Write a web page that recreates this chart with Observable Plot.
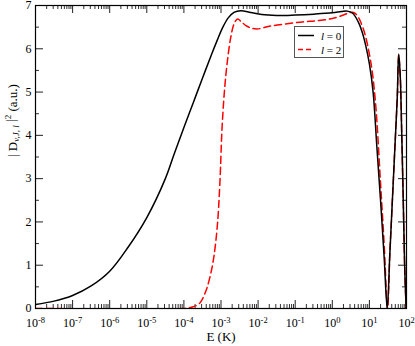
<!DOCTYPE html>
<html>
<head>
<meta charset="utf-8">
<script src="https://cdn.jsdelivr.net/npm/d3@7"></script>
<script src="https://cdn.jsdelivr.net/npm/@observablehq/plot@0.6"></script>
<style>
  html, body { margin: 0; padding: 0; background: #fff; }
  #chart { width: 415px; height: 346px; }
</style>
</head>
<body>
<div id="chart"></div>
<script>
// ---- data (log10 of E in K, and |D|^2 in a.u.) ----
const logE_l0 = [-8, -7.5, -7, -6.5, -6, -5.5, -5, -4.5, -4.25, -4, -3.75, -3.5, -3.25, -3.1, -2.95, -2.8, -2.65, -2.47, -2.2, -1.9, -1.5, -1, -0.5, 0, 0.25, 0.4, 0.55, 0.7, 0.8, 0.9, 1.0, 1.1, 1.2, 1.3, 1.4, 1.48, 1.55, 1.6, 1.65, 1.7, 1.75, 1.79, 1.83, 1.87, 1.91, 1.95, 1.99];
const val_l0  = [0.09, 0.17, 0.3, 0.52, 0.86, 1.42, 2.1, 3.0, 3.6, 4.18, 4.75, 5.32, 5.88, 6.2, 6.5, 6.72, 6.84, 6.88, 6.84, 6.79, 6.77, 6.78, 6.80, 6.83, 6.86, 6.87, 6.82, 6.62, 6.4, 6.08, 5.65, 5.0, 3.75, 2.5, 1.15, 0.0, 1.25, 2.15, 3.05, 3.95, 4.85, 5.88, 5.4, 4.1, 2.6, 1.0, 0.0];

const logE_l2 = [-8, -4, -3.9, -3.75, -3.6, -3.5, -3.4, -3.3, -3.2, -3.1, -3.03, -2.97, -2.9, -2.83, -2.74, -2.65, -2.55, -2.45, -2.3, -2.15, -2.0, -1.7, -1.3, -0.8, -0.4, 0, 0.3, 0.45, 0.57, 0.67, 0.84, 1.03, 1.16, 1.3, 1.4, 1.49, 1.55, 1.6, 1.65, 1.7, 1.75, 1.79, 1.83, 1.87, 1.91, 1.95, 1.99];
const val_l2  = [0, 0, 0.01, 0.04, 0.1, 0.22, 0.42, 0.72, 1.15, 1.9, 2.9, 4.2, 5.1, 5.7, 6.25, 6.57, 6.69, 6.62, 6.52, 6.47, 6.46, 6.52, 6.57, 6.62, 6.65, 6.7, 6.78, 6.83, 6.84, 6.77, 6.45, 5.73, 4.8, 2.9, 1.45, 0.0, 1.25, 2.15, 3.05, 3.95, 4.85, 5.85, 5.4, 4.1, 2.6, 1.0, 0.0];

const xMajorExp = [-8, -7, -6, -5, -4, -3, -2, -1, 0, 1, 2];
const xMinorMult = [2, 3, 4, 5, 6, 7, 8, 9];
const yMajor = [0, 1, 2, 3, 4, 5, 6, 7];
const yMinor = [0.5, 1.5, 2.5, 3.5, 4.5, 5.5, 6.5];
const seriesNames = ["l = 0", "l = 2"];

// ---- build tables ----
const l0 = logE_l0.map((e, i) => ({E: Math.pow(10, e), v: val_l0[i]}));
const l2 = logE_l2.map((e, i) => ({E: Math.pow(10, e), v: val_l2[i]}));
const xMajor = xMajorExp.map(e => Math.pow(10, e));
const xMinor = xMajorExp.slice(0, -1).flatMap(e => xMinorMult.map(m => m * Math.pow(10, e)));

const W = 415, H = 346, mL = 35, mR = 9, mT = 5, mB = 38;
const iw = W - mL - mR, ih = H - mT - mB;
const bigT = 8, smallT = 4;

const chart = Plot.plot({
  width: W, height: H,
  marginLeft: mL, marginRight: mR, marginTop: mT, marginBottom: mB,
  style: {fontFamily: "'Liberation Serif', 'Times New Roman', serif", fontSize: "12px", background: "#fff", color: "#000"},
  x: {type: "log", domain: [1e-8, 1e2]},
  y: {domain: [0, 7]},
  marks: [
    // inward ticks: bottom & top
    Plot.tickX(xMajor, {x: d => d, insetTop: ih - bigT, stroke: "#222"}),
    Plot.tickX(xMajor, {x: d => d, insetBottom: ih - bigT, stroke: "#222"}),
    Plot.tickX(xMinor, {x: d => d, insetTop: ih - smallT, stroke: "#333"}),
    Plot.tickX(xMinor, {x: d => d, insetBottom: ih - smallT, stroke: "#333"}),
    // inward ticks: left & right
    Plot.tickY(yMajor, {y: d => d, insetRight: iw - bigT, stroke: "#222"}),
    Plot.tickY(yMajor, {y: d => d, insetLeft: iw - bigT, stroke: "#222"}),
    Plot.tickY(yMinor, {y: d => d, insetRight: iw - smallT, stroke: "#333"}),
    Plot.tickY(yMinor, {y: d => d, insetLeft: iw - smallT, stroke: "#333"}),
    Plot.axisX(xMajor, {tickSize: 0, tickPadding: 10, label: null, fontSize: 12,
      tickFormat: d => String(Math.round(Math.log10(d)))}),
    Plot.axisY(yMajor, {tickSize: 0, tickPadding: 4, label: null, fontSize: 12}),
    Plot.line(l2, {x: "E", y: "v", stroke: "#ff0000", strokeWidth: 1.5, strokeDasharray: "7,4", curve: "catmull-rom", clip: true}),
    Plot.line(l0, {x: "E", y: "v", stroke: "#000", strokeWidth: 1.5, curve: "catmull-rom", clip: true}),
    Plot.frame({stroke: "#000", strokeWidth: 1.2}),
    Plot.text(["E (K)"], {frameAnchor: "bottom", dy: 32.5, fontSize: 13}),
    Plot.text(["Y"], {frameAnchor: "left", dx: -23, rotate: -90, fontSize: 13})
  ]
});

const svg = d3.select(chart);

// superscript exponents on x tick labels
svg.selectAll('[aria-label="x-axis tick label"] text').each(function() {
  const exp = this.textContent;
  const t = d3.select(this);
  t.text(null);
  t.append("tspan").text("10");
  t.append("tspan").attr("dy", "-0.5em").attr("font-size", "8.5px").text(exp);
});

// y axis title with sub/superscripts
svg.selectAll('[aria-label="text"] text').each(function() {
  if (this.textContent !== "Y") return;
  const t = d3.select(this);
  t.text(null);
  t.append("tspan").text("| D");
  t.append("tspan").attr("dy", "0.3em").attr("font-size", "9px").attr("font-style", "italic").text("v,J, l");
  t.append("tspan").attr("dy", "-0.3em").text(" |");
  t.append("tspan").attr("dy", "-0.5em").attr("font-size", "9px").text("2");
  t.append("tspan").attr("dy", "0.5em").text(" (a.u.)");
});

// legend
const lg = svg.append("g").attr("font-family", "'Liberation Serif', serif").attr("font-size", "11px").attr("text-anchor", "start");
lg.append("rect").attr("x", 294.5).attr("y", 26.5).attr("width", 49).attr("height", 31)
  .attr("fill", "#fff").attr("stroke", "#555").attr("stroke-width", 1);
const entries = [
  {name: seriesNames[0], stroke: "#000", dash: null, y: 35.5},
  {name: seriesNames[1], stroke: "#ff0000", dash: "5,3", y: 49.5}
];
entries.forEach(en => {
  lg.append("line").attr("x1", 298).attr("x2", 314).attr("y1", en.y).attr("y2", en.y)
    .attr("stroke", en.stroke).attr("stroke-width", 1.5).attr("stroke-dasharray", en.dash);
  const tx = lg.append("text").attr("x", 321).attr("y", en.y + 4).attr("text-anchor", "start");
  const parts = en.name.split(" ");
  tx.append("tspan").attr("font-style", "italic").text(parts[0]);
  tx.append("tspan").text(" " + parts.slice(1).join(" "));
});

document.getElementById("chart").appendChild(chart);
</script>
</body>
</html>
